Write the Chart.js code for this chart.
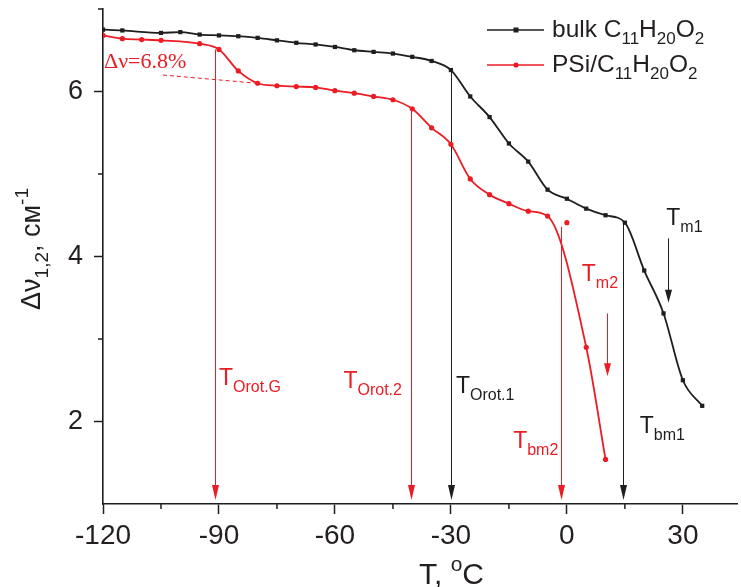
<!DOCTYPE html>
<html>
<head>
<meta charset="utf-8">
<script src="https://cdn.jsdelivr.net/npm/chart.js@4.4.1/dist/chart.umd.min.js"></script>
<style>
html, body { margin: 0; padding: 0; background: #fff; }
canvas { display: block; }
</style>
</head>
<body>
<canvas id="chart" width="741" height="587"></canvas>
<script>
// bulk C11H20O2 (T, °C -> Δν, cm-1)
const bulkT = [-120, -115, -105, -100, -95, -90, -85, -80, -75, -70, -65, -60, -55, -50, -45, -40,
               -35, -30, -25, -20, -15, -10, -5, 0, 5, 10, 15, 20, 25, 30, 35];
const bulkV = [6.75, 6.74, 6.71, 6.72, 6.69, 6.68, 6.67, 6.65, 6.62, 6.59, 6.57, 6.54, 6.50, 6.48, 6.46, 6.42,
               6.37, 6.26, 5.94, 5.69, 5.37, 5.15, 4.81, 4.70, 4.58, 4.50, 4.41, 3.83, 3.31, 2.50, 2.19];

// PSi/C11H20O2
const psiT = [-120, -115, -110, -105, -95, -90, -85, -80, -75, -70, -65, -60, -55, -50, -45, -40,
              -35, -30, -25, -20, -15, -10, -5, 5, 10];
const psiV = [6.68, 6.64, 6.63, 6.62, 6.58, 6.51, 6.25, 6.10, 6.07, 6.06, 6.05, 6.01, 5.98, 5.94, 5.90, 5.79,
              5.56, 5.36, 4.94, 4.75, 4.64, 4.55, 4.49, 2.90, 1.54];
// point off the fitted curve
const psiOddT = [0];
const psiOddV = [4.41];

// axis ticks
const xMajor = [-120, -90, -60, -30, 0, 30];
const xMinor = [-105, -75, -45, -15, 15];
const yMajor = [2, 4, 6];
const yMinor = [3, 5, 7];

// vertical arrows (temperature, from, to)
const arrowT    = [-91, -40.3, -30, -1.6, 14.6, 26.1, 10.5];
const arrowFrom = [6.51, 5.79, 6.26, 4.36, 4.40, 4.22, 3.31];
const arrowTo   = [1.05, 1.05, 1.05, 1.05, 1.05, 3.44, 2.55];
const arrowSet  = ['psi', 'psi', 'bulk', 'psi', 'bulk', 'bulk', 'psi'];

// temperature labels
const noteSub = ['Orot.G', 'Orot.2', 'Orot.1', 'bm2', 'bm1', 'm1', 'm2'];
const noteT   = [-90, -57.8, -28.7, -13.9, 18.85, 25.7, 3.86];
const noteV   = [2.445, 2.405, 2.344, 1.678, 1.86, 4.384, 3.70];
const noteSet = ['psi', 'psi', 'bulk', 'psi', 'bulk', 'bulk', 'psi'];

// Δν=6.8% guide
const gapT = [-104.5, -80.2];
const gapV = [6.20, 6.10];

const BLACK = '#1e1e1e';
const RED = '#ec1c24';
const TEXT = '#231f20';
const SANS = '"Liberation Sans", Arial, sans-serif';
const SERIF = '"Liberation Serif", "Times New Roman", serif';
const colorOf = s => s === 'psi' ? RED : BLACK;

// text with sub/superscripts: parts = [[text, ''|'sub'|'sup'], ...]
function richWidth(ctx, parts, size, family) {
    let w = 0;
    parts.forEach(([t, k]) => {
        ctx.font = `${k ? Math.round(size * 0.7) : size}px ${family}`;
        w += ctx.measureText(t).width;
    });
    return w;
}
function richText(ctx, parts, x, y, size, color, family) {
    let cx = x;
    ctx.fillStyle = color;
    ctx.textAlign = 'left';
    ctx.textBaseline = 'alphabetic';
    parts.forEach(([t, k]) => {
        const s = k ? Math.round(size * 0.7) : size;
        const dy = k === 'sub' ? size * 0.3 : k === 'sup' ? -size * 0.45 : 0;
        ctx.font = `${s}px ${family}`;
        ctx.fillText(t, cx, y + dy);
        cx += ctx.measureText(t).width;
    });
}

const pts = (xs, ys) => xs.map((x, i) => ({ x: x, y: ys[i] }));

const overlay = {
    id: 'overlay',
    beforeDatasetsDraw(chart) {
        const ctx = chart.ctx;
        const sx = chart.scales.x, sy = chart.scales.y;
        ctx.save();
        // vertical arrows
        arrowT.forEach((t, i) => {
            const x = Math.round(sx.getPixelForValue(t)) + 0.5;
            const y0 = sy.getPixelForValue(arrowFrom[i]);
            const y1 = sy.getPixelForValue(arrowTo[i]);
            const head = i >= 5 ? 13 : 15;
            ctx.strokeStyle = colorOf(arrowSet[i]);
            ctx.fillStyle = colorOf(arrowSet[i]);
            ctx.lineWidth = 1;
            ctx.beginPath();
            ctx.moveTo(x, y0);
            ctx.lineTo(x, y1 - head + 2);
            ctx.stroke();
            ctx.beginPath();
            ctx.moveTo(x - 3.5, y1 - head);
            ctx.lineTo(x + 3.5, y1 - head);
            ctx.lineTo(x, y1);
            ctx.closePath();
            ctx.fill();
        });
        // dashed guide
        ctx.strokeStyle = RED;
        ctx.lineWidth = 1;
        ctx.setLineDash([4, 3]);
        ctx.beginPath();
        ctx.moveTo(sx.getPixelForValue(gapT[0]), sy.getPixelForValue(gapV[0]));
        ctx.lineTo(sx.getPixelForValue(gapT[1]), sy.getPixelForValue(gapV[1]));
        ctx.stroke();
        ctx.restore();
    },
    afterDraw(chart) {
        const ctx = chart.ctx;
        const sx = chart.scales.x, sy = chart.scales.y;
        const area = chart.chartArea;
        ctx.save();

        // minor ticks
        ctx.strokeStyle = BLACK;
        ctx.lineWidth = 1.5;
        xMinor.forEach(v => {
            const x = sx.getPixelForValue(v);
            ctx.beginPath();
            ctx.moveTo(x, area.bottom);
            ctx.lineTo(x, area.bottom + 5);
            ctx.stroke();
        });
        yMinor.forEach(v => {
            const y = sy.getPixelForValue(v);
            ctx.beginPath();
            ctx.moveTo(area.left, y);
            ctx.lineTo(area.left - 5, y);
            ctx.stroke();
        });

        // temperature labels
        noteSub.forEach((s, i) => {
            richText(ctx, [['T', ''], [s, 'sub']],
                sx.getPixelForValue(noteT[i]), sy.getPixelForValue(noteV[i]),
                23, colorOf(noteSet[i]), SANS);
        });

        // Δν=6.8%
        ctx.font = `22px ${SERIF}`;
        ctx.fillStyle = RED;
        ctx.fillText('Δν=6.8%', sx.getPixelForValue(-120) + 1, sy.getPixelForValue(6.28));

        // legend
        const legend = [
            { y: 30, color: BLACK, style: 'rect', parts: [['bulk C', ''], ['11', 'sub'], ['H', ''], ['20', 'sub'], ['O', ''], ['2', 'sub']] },
            { y: 65, color: RED, style: 'circle', parts: [['PSi/C', ''], ['11', 'sub'], ['H', ''], ['20', 'sub'], ['O', ''], ['2', 'sub']] }
        ];
        legend.forEach(item => {
            ctx.strokeStyle = item.color;
            ctx.fillStyle = item.color;
            ctx.lineWidth = 1.6;
            ctx.beginPath();
            ctx.moveTo(487, item.y);
            ctx.lineTo(544, item.y);
            ctx.stroke();
            if (item.style === 'rect') {
                ctx.fillRect(513.5, item.y - 2.5, 5, 5);
            } else {
                ctx.beginPath();
                ctx.arc(516, item.y, 2.6, 0, Math.PI * 2);
                ctx.fill();
            }
            richText(ctx, item.parts, 552, item.y + 7, 24.5, TEXT, SANS);
        });

        // axis titles
        const xParts = [['T, ', ''], ['o', 'sup'], ['C', '']];
        richText(ctx, xParts, 419, 584, 30, TEXT, SANS);

        const yParts = [['Δν', ''], ['1,2', 'sub'], [', см', ''], ['-1', 'sup']];
        const yw = richWidth(ctx, yParts, 27, SANS);
        ctx.translate(40, 249);
        ctx.rotate(-Math.PI / 2);
        richText(ctx, yParts, -yw / 2, 0, 27, TEXT, SANS);

        ctx.restore();
    }
};

new Chart(document.getElementById('chart'), {
    type: 'scatter',
    data: {
        datasets: [
            {
                label: 'bulk C11H20O2',
                data: pts(bulkT, bulkV),
                showLine: true,
                cubicInterpolationMode: 'monotone',
                borderColor: BLACK,
                backgroundColor: BLACK,
                borderWidth: 1.8,
                pointStyle: 'rect',
                pointRadius: 3,
                pointBorderWidth: 0
            },
            {
                label: 'PSi/C11H20O2',
                data: pts(psiT, psiV),
                showLine: true,
                cubicInterpolationMode: 'monotone',
                borderColor: RED,
                backgroundColor: RED,
                borderWidth: 1.8,
                pointStyle: 'circle',
                pointRadius: 2.6,
                pointBorderWidth: 0
            },
            {
                label: 'PSi odd',
                data: pts(psiOddT, psiOddV),
                showLine: false,
                backgroundColor: RED,
                pointStyle: 'circle',
                pointRadius: 2.6,
                pointBorderWidth: 0
            }
        ]
    },
    options: {
        responsive: false,
        animation: false,
        devicePixelRatio: 1,
        layout: { padding: { top: 9, right: 0, left: 0, bottom: 0 } },
        plugins: {
            legend: { display: false },
            tooltip: { enabled: false }
        },
        scales: {
            x: {
                type: 'linear',
                min: -120,
                max: 44,
                afterFit: s => { s.height = 83; s.paddingLeft = 0; s.paddingRight = 0; },
                afterBuildTicks: s => { s.ticks = xMajor.map(v => ({ value: v })); },
                border: { color: BLACK, width: 1.6 },
                grid: { drawOnChartArea: false, tickLength: 10, tickColor: BLACK, tickWidth: 1.5 },
                ticks: { color: TEXT, font: { family: SANS, size: 28 }, padding: 5, maxRotation: 0, autoSkip: false }
            },
            y: {
                min: 1,
                max: 7,
                afterFit: s => { s.width = 103; s.paddingTop = 0; s.paddingBottom = 0; },
                afterBuildTicks: s => { s.ticks = yMajor.map(v => ({ value: v })); },
                border: { color: BLACK, width: 1.6 },
                grid: { drawOnChartArea: false, tickLength: 9, tickColor: BLACK, tickWidth: 1.5 },
                ticks: { color: TEXT, font: { family: SANS, size: 27 }, padding: 11 }
            }
        }
    },
    plugins: [overlay]
});
</script>
</body>
</html>
